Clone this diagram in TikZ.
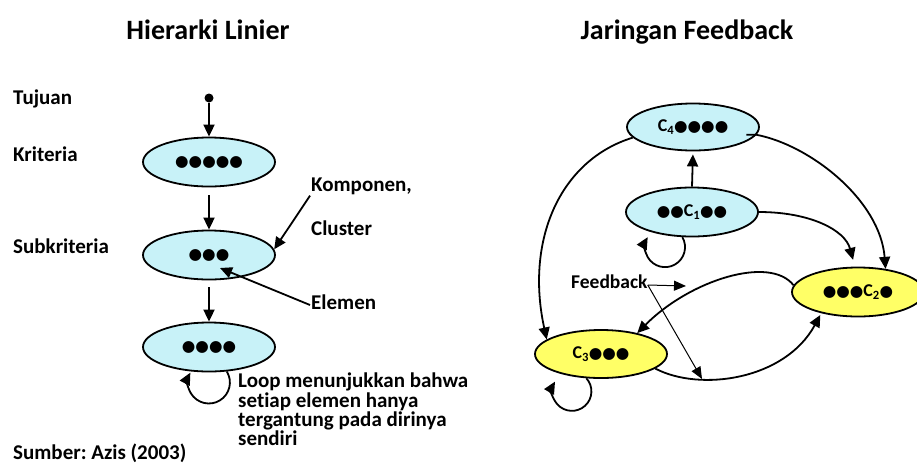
\documentclass[tikz,border=0pt]{standalone}
\usepackage{fontspec}
\setmainfont[Ligatures=NoCommon]{Carlito}
\newfontfamily\dotfont{DejaVu Sans}
\usetikzlibrary{shapes.geometric,arrows.meta}
\definecolor{cyanfill}{RGB}{200,242,248}
\definecolor{yelfill}{RGB}{255,255,102}
\newcommand\mydots[1]{{\dotfont\fontsize{15.5}{15.5}\selectfont #1}}
\frenchspacing
\tikzset{
  ell/.style={ellipse, draw, line width=1.8pt, minimum width=132pt, minimum height=49pt, inner sep=0pt,
    font=\fontsize{18}{18}\selectfont\bfseries},
  cyanell/.style={ell, fill=cyanfill},
  yelell/.style={ell, fill=yelfill},
  conn/.style={line width=1.8pt, -{Triangle[length=12pt,width=11pt]}},
  fbarrow/.style={line width=1pt, -{Triangle[length=12pt,width=10pt]}},
  lbl/.style={font=\fontsize{21}{21}\selectfont\bfseries, inner sep=1pt},
  ttl/.style={font=\fontsize{28}{28}\selectfont\bfseries},
}
\begin{document}
\begin{tikzpicture}[x=1pt,y=-1pt]
\useasboundingbox (0,0) rectangle (917,464);
% titles
\node[ttl,anchor=base] (t1) at (208,39) {Hierarki Linier};
\node[ttl,anchor=base] (t2) at (687,39) {Jaringan Feedback};
% left labels
\node[lbl,anchor=west] (tuj) at (12,99) {Tujuan};
\node[lbl,anchor=west] (kri) at (12,154) {Kriteria};
\node[lbl,anchor=west] (sub) at (12,246) {Subkriteria};
\node[lbl,anchor=west] (src) at (12,453) {Sumber: Azis (2003)};
% linear hierarchy
\node[circle,fill,inner sep=0pt,minimum size=9pt] (goal) at (209,98) {};
\node[cyanell] (e1) at (209,162) {\mydots{●●●●●}};
\node[cyanell] (e2) at (209,255) {\mydots{●●●}};
\node[cyanell] (e3) at (209,347) {\mydots{●●●●}};
\draw[conn] (goal) -- (e1.north);
\draw[conn, shorten <=8pt] (e1.south) -- (e2.north);
\draw[conn, shorten <=7pt] (e2.south) -- (e3.north);
\draw[conn] (e3.-54) arc[start angle=31.6, end angle=-208, radius=21pt];
\node[lbl,anchor=west] (komp) at (310,186) {Komponen,};
\node[lbl,anchor=west] (clus) at (310,228) {Cluster};
\node[lbl,anchor=west] (elem) at (310,302) {Elemen};
\coordinate (elemtip) at (220,268);
\draw[conn] (komp.south west) -- (e2.5);
\draw[conn] ([yshift=-3pt]elem.west) -- (elemtip);
\node[lbl,anchor=north west,align=left,inner sep=0pt,font=\fontsize{21}{17.3}\selectfont\bfseries] (loopnote) at (238,373)
  {Loop menunjukkan bahwa\\setiap elemen hanya\\tergantung pada dirinya\\sendiri};
% feedback network
\node[cyanell, minimum height=47pt] (c4) at (693,127) {C\textsubscript{4}\mydots{●●●●}};
\node[cyanell] (c1) at (692,212) {\mydots{●●}C\textsubscript{1}\mydots{●●}};
\node[yelell] (c2) at (858,292) {\mydots{●●●}C\textsubscript{2}\mydots{●}};
\node[yelell, minimum height=48pt] (c3) at (601,354) {C\textsubscript{3}\mydots{●●●}};
\draw[conn, shorten >=3pt] (c1.north) -- (c4.south);
\draw[conn] (c4.190) .. controls (560,160) and (525,240) .. (c3.165);
\draw[conn] ([xshift=-10pt]c4.-7) -- (c4.-7) .. controls (810,145) and (880,200) .. (c2.40);
\draw[conn, shorten >=7pt] (c1.east) .. controls (810,212) and (845,230) .. (c2.97);
\draw[conn] (c2.174) .. controls (770,255) and (690,280) .. (c3.30);
\draw[conn, shorten >=2pt] (c3.-15) .. controls (700,392) and (785,380) .. (c2.210);
\draw[conn] (c1.-111) arc[start angle=30, end angle=-210, radius=20pt];
\draw[conn] (c3.-121) arc[start angle=42, end angle=-210, radius=19.5pt];
\node[lbl, anchor=west, inner sep=0pt, font=\fontsize{19.5}{19.5}\selectfont\bfseries] (fb) at (571,282) {Feedback};
\coordinate (fbt1) at (686,286);
\coordinate (fbt2) at (702,379);
\draw[fbarrow] ([yshift=-3pt]fb.east) -- (fbt1);
\draw[fbarrow] ([yshift=-3pt]fb.east) -- (fbt2);
\end{tikzpicture}
\end{document}
